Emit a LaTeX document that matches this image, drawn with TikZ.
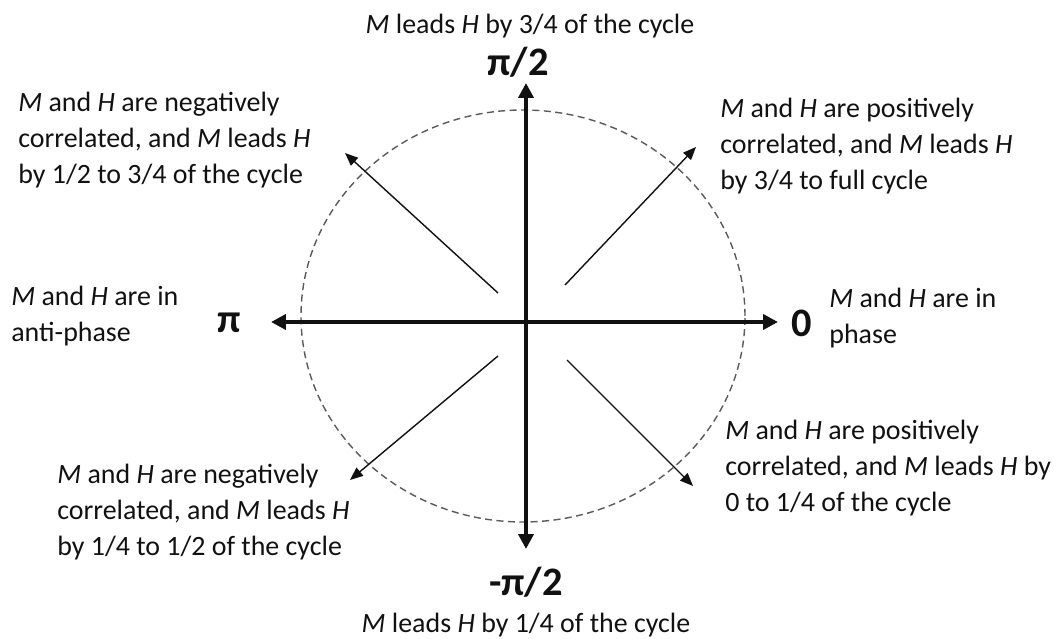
\documentclass[tikz,border=0pt]{standalone}
\usepackage{fontspec}
\setmainfont{Carlito}
\usepackage{xcolor}
\usepackage{tikz}
\usetikzlibrary{arrows.meta,positioning,calc}
\definecolor{phaseInk}{HTML}{111111}
\definecolor{phaseDash}{HTML}{5A5A5A}

\begin{document}
\begin{tikzpicture}[
  note/.style={font=\fontsize{15.9}{20.4}\selectfont,align=left,inner sep=0pt,text=phaseInk},
  axislbl/.style={font=\fontsize{23}{26}\selectfont\bfseries,inner sep=0pt,text=phaseInk},
  axis/.style={{Triangle[length=3mm,width=3mm]}-{Triangle[length=3mm,width=3mm]},line width=2.6pt,phaseInk},
  arr/.style={-{Triangle[length=2.6mm,width=2.1mm]},line width=0.8pt,phaseInk}
]
\path[use as bounding box] (-10.52,6.44) rectangle (10.70,-6.32);

% unit circle
\draw[phaseDash,line width=0.8pt,dash pattern=on 4pt off 2.5pt] (-0.06,0.12) ellipse [x radius=4.44,y radius=4.12];

% axes
\coordinate (east)  at (5.04,0);
\coordinate (west)  at (-5.10,0);
\coordinate (north) at (0,4.78);
\coordinate (south) at (0,-4.54);
\draw[axis] (west) -- (east);
\draw[axis] (south) -- (north);

% quadrant arrows
\coordinate (ulA) at (-0.56,0.58);  \coordinate (ulB) at (-3.62,3.38);
\coordinate (urA) at (0.78,0.74);   \coordinate (urB) at (3.40,3.50);
\coordinate (llA) at (-0.56,-0.68); \coordinate (llB) at (-3.52,-3.16);
\coordinate (lrA) at (0.82,-0.76);  \coordinate (lrB) at (3.34,-3.28);
\draw[arr] (ulA) -- (ulB);
\draw[arr] (urA) -- (urB);
\draw[arr] (llA) -- (llB);
\draw[arr] (lrA) -- (lrB);

% axis labels
\node[axislbl] (halfpi)  at (-0.16,5.20) {π/2};
\node[axislbl] (piL)     at (-5.94,-0.02) {π};
\node[axislbl] (zeroL)   at (5.52,-0.02) {0};
\node[axislbl] (mhalfpi) at (0,-5.20) {-π/2};

% notes
\node[note] (topN) at (0.08,5.92) {\textit{M} leads \textit{H} by 3/4 of the cycle};
\node[note] (botN) at (0,-6.06) {\textit{M} leads \textit{H} by 1/4 of the cycle};
\node[note,anchor=west] (ulN) at (-10.16,3.64)
  {\textit{M} and \textit{H} are negatively\\correlated, and \textit{M} leads \textit{H}\\by 1/2 to 3/4 of the cycle};
\node[note,anchor=west] (urN) at (3.88,3.52)
  {\textit{M} and \textit{H} are positively\\correlated, and \textit{M} leads \textit{H}\\by 3/4 to full cycle};
\node[note,anchor=west] (wN) at (-10.30,0.12)
  {\textit{M} and \textit{H} are in\\anti-phase};
\node[note,anchor=west] (eN) at (6.06,0.08)
  {\textit{M} and \textit{H} are in\\phase};
\node[note,anchor=west] (lrN) at (3.98,-2.92)
  {\textit{M} and \textit{H} are positively\\correlated, and \textit{M} leads \textit{H} by\\0 to 1/4 of the cycle};
\node[note,anchor=west] (llN) at (-9.38,-3.80)
  {\textit{M} and \textit{H} are negatively\\correlated, and \textit{M} leads \textit{H}\\by 1/4 to 1/2 of the cycle};
\end{tikzpicture}
\end{document}
